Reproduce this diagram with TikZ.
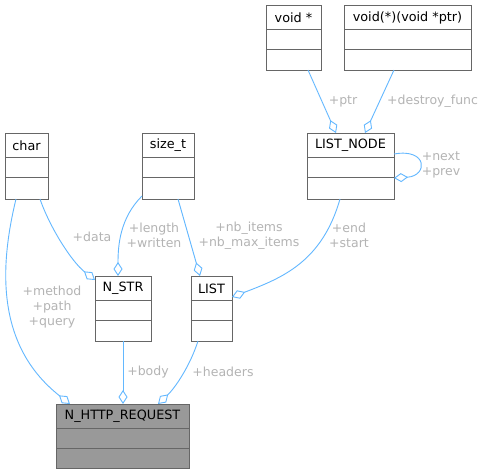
\documentclass[tikz,border=0pt]{standalone}
\usepackage{fontspec}
\setmainfont{DejaVu Sans}
\usetikzlibrary{arrows.meta,calc}
\definecolor{edgeblue}{HTML}{63B8FF}
\definecolor{labelgray}{HTML}{B4B4B4}
\definecolor{boxline}{HTML}{666666}
\definecolor{hlfill}{HTML}{999999}
\tikzset{
  classbox/.style={draw=boxline, line width=1pt, anchor=north west, inner sep=0pt, outer sep=0pt},
  classtitle/.style={font=\fontsize{12.8}{14}\selectfont, text=black, inner sep=0pt, anchor=center},
  member/.style={draw=edgeblue, line width=0.9pt, -{Diamond[open, length=14pt, width=9pt, line width=0.9pt]}},
  elabel/.style={font=\fontsize{12.5}{15}\selectfont, text=labelgray, align=center, inner sep=0pt},
}
\newcommand\umlclass[7]{% name, x, y, w, h, fill, title
  \node[classbox, minimum width=#4pt, minimum height=#5pt, fill=#6] (#1) at (#2,#3) {};
  \draw[boxline, line width=1pt] ($(#1.north west)+(0,24)$) -- ($(#1.north east)+(0,24)$);
  \draw[boxline, line width=1pt] ($(#1.north west)+(0,44)$) -- ($(#1.north east)+(0,44)$);
  \node[classtitle] (#1-t) at ($(#1.north)+(0,12.5)$) {#7};
}
\begin{document}
\begin{tikzpicture}[x=1pt,y=-1pt]
\useasboundingbox (0,0) rectangle (487,475);
\fill[white] (0,0) rectangle (487,475);

\umlclass{voidp}{266}{5}{55}{65}{white}{void *}
\umlclass{voidfn}{344}{5}{127}{65}{white}{void(*)(void *ptr)}
\umlclass{char}{5}{133}{43}{66}{white}{char}
\umlclass{sizet}{142}{133}{52}{66}{white}{size\_t}
\umlclass{listnode}{307}{133}{87}{66}{white}{LIST\_NODE}
\umlclass{nstr}{95}{276}{56}{65}{white}{N\_STR}
\umlclass{list}{191}{276}{41}{65}{white}{LIST}
\umlclass{req}{56}{404}{133}{64}{hlfill}{N\_HTTP\_REQUEST}

% connectors
\draw[member] ($(char.south west)+(11,0)$) .. controls (0,265) and (-5,345) .. ($(req.north west)+(14,0)$);
\draw[member] ($(char.south west)+(35,0)$) .. controls (50,228) and (72,262) .. ($(nstr.north west)+(0,4)$);
\draw[member] ($(sizet.south west)+(0,-3)$) .. controls (120,218) and (118,245) .. ($(nstr.north west)+(23,0)$);
\draw[member] ($(sizet.south west)+(36,0)$) -- ($(list.north west)+(9,0)$);
\draw[member] ($(listnode.south west)+(33,0)$) .. controls (322,262) and (282,278) .. ($(list.north east)+(0,21)$);
\draw[member] ($(listnode.north east)+(0,21)$) .. controls (428,148) and (428,176) .. ($(listnode.north east)+(0,45)$);
\draw[member] ($(voidp.south west)+(42,0)$) -- ($(listnode.north west)+(29,0)$);
\draw[member] ($(voidfn.south west)+(50,0)$) -- ($(listnode.north west)+(58,0)$);
\draw[member] (nstr.south) -- (nstr.south |- req.north);
\draw[member] ($(list.south west)+(7,0)$) .. controls (190,366) and (175,388) .. ($(req.north west)+(102,0)$);

% labels
\node[elabel] (l-mpq) at (52,307) {+method\\+path\\+query};
\node[elabel] (l-data) at (92,237) {+data};
\node[elabel] (l-len) at (154,235.5) {+length\\+written};
\node[elabel] (l-nb) at (249,235.5) {+nb\_items\\+nb\_max\_items};
\node[elabel] (l-end) at (349,235.5) {+end\\+start};
\node[elabel, align=left] (l-next) at (441,165) {+next\\+prev};
\node[elabel] (l-ptr) at (343,101) {+ptr};
\node[elabel, anchor=west] (l-df) at (387,101) {+destroy\_func};
\node[elabel] (l-body) at (148,372) {+body};
\node[elabel] (l-hdr) at (223,372) {+headers};
\end{tikzpicture}
\end{document}
